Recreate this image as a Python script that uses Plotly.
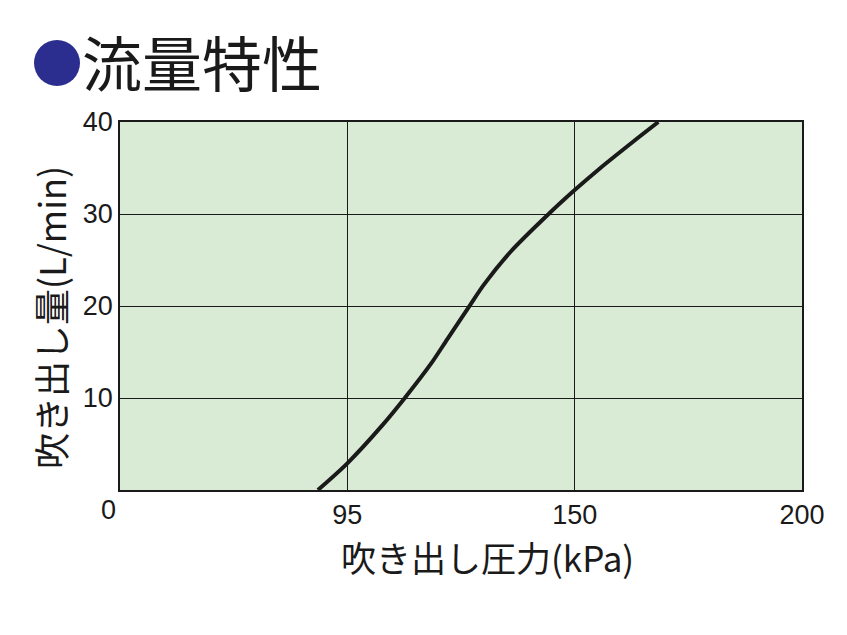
import numpy as np
import plotly.graph_objects as go

# --- data ---
pressure_kpa = [82.7, 95.0, 103.6, 108.9, 115.2, 119.2, 124.7, 128.0, 134.5, 143.7, 150.0, 155.4, 162.7, 168.4]
flow_lpm = [0.0, 2.9, 7.1, 10.0, 13.7, 16.4, 20.1, 22.3, 25.9, 30.0, 32.6, 34.9, 37.8, 40.0]
x_tick_labels = ["0", "95", "150", "200"]
x_tick_values = [0, 95, 150, 200]
y_tick_values = [10, 20, 30, 40]

# the axis in the original has equally spaced grid lines for non-uniform kPa values
tick_pos = list(range(len(x_tick_values)))
x_pos = np.interp(pressure_kpa, x_tick_values, tick_pos)

W, H = 847, 635
L, R, T, B = 120, 802, 122, 490

def px(x):
    return (x - L) / (R - L)

def py(y):
    return (B - y) / (B - T)

FONT = "Liberation Sans, Arial, Noto Sans CJK JP, sans-serif"
CJK = "Noto Sans CJK JP, Liberation Sans, sans-serif"

fig = go.Figure()
fig.add_trace(go.Scatter(
    x=x_pos, y=flow_lpm, mode="lines",
    line=dict(color="#1a1a1a", width=4, shape="spline", smoothing=0.8),
    showlegend=False, hoverinfo="skip",
))

fig.update_layout(
    width=W, height=H,
    margin=dict(l=L, r=W - R, t=T, b=H - B),
    paper_bgcolor="white",
    plot_bgcolor="#d9ebd5",
    font=dict(family=FONT, size=27, color="#1a1a1a"),
    xaxis=dict(
        range=[0, 3], tickvals=tick_pos[1:], ticktext=x_tick_labels[1:],
        showgrid=True, gridcolor="#1a1a1a", gridwidth=1.2,
        showline=True, linecolor="#1a1a1a", linewidth=1.5, mirror=True,
        ticks="", zeroline=False, fixedrange=True,
        tickfont=dict(size=27, family=FONT, color="#1a1a1a"),
    ),
    yaxis=dict(
        range=[0, 40], tickvals=y_tick_values,
        showgrid=True, gridcolor="#1a1a1a", gridwidth=1.2,
        showline=True, linecolor="#1a1a1a", linewidth=1.5, mirror=True,
        ticks="", zeroline=False, fixedrange=True,
        tickfont=dict(size=27, family=FONT, color="#1a1a1a"),
    ),
    shapes=[
        dict(type="circle", xref="paper", yref="paper",
             x0=px(34), x1=px(80), y0=py(86), y1=py(40),
             fillcolor="#2b2e8e", line=dict(width=0)),
    ],
    annotations=[
        dict(text="流量特性", xref="paper", yref="paper", x=px(80), y=py(60),
             xanchor="left", yanchor="middle", showarrow=False,
             font=dict(family=CJK, size=60, color="#1a1a1a")),
        dict(text="0", xref="paper", yref="paper", x=px(108), y=py(510),
             xanchor="center", yanchor="middle", showarrow=False,
             font=dict(family=FONT, size=27, color="#1a1a1a")),
        dict(text="吹き出し圧力(kPa)", xref="paper", yref="paper", x=px(487), y=py(556),
             xanchor="center", yanchor="middle", showarrow=False,
             font=dict(family=CJK, size=35, color="#1a1a1a")),
        dict(text="吹き出し量(L/min)", xref="paper", yref="paper", x=px(50), y=py(318),
             xanchor="center", yanchor="middle", showarrow=False, textangle=-90,
             font=dict(family=CJK, size=36, color="#1a1a1a")),
    ],
)

fig.write_html("out.html", post_script="document.body.style.margin='0';",
               config={"displayModeBar": False})
